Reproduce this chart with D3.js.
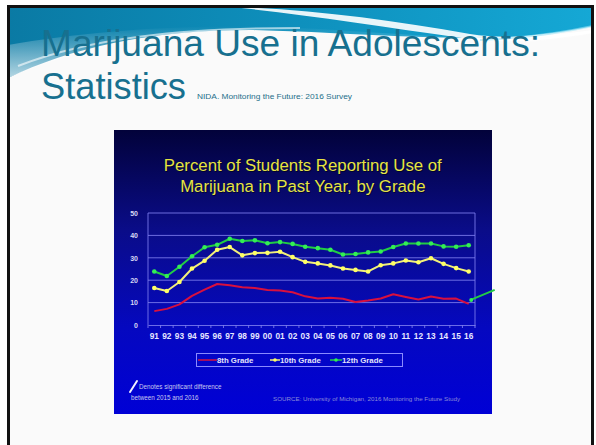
<!DOCTYPE html>
<html><head><meta charset="utf-8">
<script src="https://cdn.jsdelivr.net/npm/d3@7"></script>
<style>html,body{margin:0;padding:0;background:#fff;overflow:hidden}</style>
</head><body>
<script>
const years = ["91","92","93","94","95","96","97","98","99","00","01","02","03","04","05","06","07","08","09","10","11","12","13","14","15","16"];
const grade8  = [6.2,7.2,9.2,13.0,15.8,18.3,17.7,16.9,16.5,15.6,15.4,14.6,12.8,11.8,12.2,11.7,10.3,10.9,11.8,13.7,12.5,11.4,12.7,11.7,11.8,9.4];
const grade10 = [16.5,15.2,19.2,25.2,28.7,33.6,34.8,31.1,32.1,32.2,32.7,30.3,28.2,27.5,26.6,25.2,24.6,23.9,26.7,27.5,28.8,28.0,29.8,27.3,25.4,23.9];
const grade12 = [23.9,21.9,26.0,30.7,34.7,35.8,38.5,37.5,37.8,36.5,37.0,36.2,34.9,34.3,33.6,31.5,31.7,32.4,32.8,34.8,36.4,36.4,36.4,35.1,34.9,35.6];
const yTicks = [0,10,20,30,40,50];
const seriesNames = ["8th Grade","10th Grade","12th Grade"];

const W = 596, H = 445;
const svg = d3.select("body").append("svg").attr("width", W).attr("height", H);
const defs = svg.append("defs");

// slide background
svg.append("rect").attr("x",0).attr("y",0).attr("width",W).attr("height",H).attr("fill","#ffffff");
svg.append("rect").attr("x",8).attr("y",6).attr("width",585).attr("height",H).attr("fill","#fafafa");

// header wave
const tg = defs.append("linearGradient").attr("id","teal").attr("x1","0").attr("y1","0").attr("x2","1").attr("y2","0");
tg.append("stop").attr("offset","0%").attr("stop-color","#0a7aa4");
tg.append("stop").attr("offset","50%").attr("stop-color","#0e90bd");
tg.append("stop").attr("offset","100%").attr("stop-color","#15a8d5");
const tv = defs.append("linearGradient").attr("id","tealFade").attr("x1","0").attr("y1","0").attr("x2","0").attr("y2","1");
tv.append("stop").attr("offset","0%").attr("stop-color","#ffffff").attr("stop-opacity",0);
tv.append("stop").attr("offset","100%").attr("stop-color","#ffffff").attr("stop-opacity",0.7);
svg.append("path").attr("d","M8,7 H593 V26 C560,33 520,38 480,38 C400,38 330,32 250,30 C150,30 70,48 8,78 Z").attr("fill","url(#teal)");
svg.append("path").attr("d","M8,45 C70,34 150,26 250,26 C330,28 400,36 480,38 C520,38 560,33 593,26 V34 C560,40 520,44 480,44 C400,44 330,36 250,34 C150,34 70,50 8,78 Z").attr("fill","url(#tealFade)");
// light swoosh
svg.append("path").attr("d","M232,7 C310,9 390,20 470,34 C500,39 540,37 593,30 L593,33 C540,42 500,44 462,38 C380,26 300,14 232,7 Z").attr("fill","#ffffff").attr("opacity",0.9);
svg.append("path").attr("d","M18,66 C90,38 180,28 300,28").attr("fill","none").attr("stroke","#ffffff").attr("stroke-width",2).attr("opacity",0.6);
svg.append("path").attr("d","M480,40 C530,38 565,32 593,26").attr("fill","none").attr("stroke","#9ee4f6").attr("stroke-width",2).attr("opacity",0.6);

// frame
svg.append("path").attr("d","M8.5,460 V6.5 H592.5 V460").attr("fill","none").attr("stroke","#111").attr("stroke-width",3);

// titles
svg.append("text").attr("x",41).attr("y",56).attr("font-family","Liberation Sans, Arial, sans-serif")
  .attr("font-size",36).attr("fill","#17708f").attr("textLength",499).attr("lengthAdjust","spacingAndGlyphs")
  .text("Marijuana Use in Adolescents:");
svg.append("text").attr("x",41).attr("y",99).attr("font-family","Liberation Sans, Arial, sans-serif")
  .attr("font-size",36).attr("fill","#17708f").attr("textLength",145).attr("lengthAdjust","spacingAndGlyphs")
  .text("Statistics");
svg.append("text").attr("x",197).attr("y",99).attr("font-family","Liberation Sans, Arial, sans-serif")
  .attr("font-size",7).attr("fill","#1d6f8a").attr("textLength",155).attr("lengthAdjust","spacingAndGlyphs")
  .text("NIDA. Monitoring the Future: 2016 Survey");

// chart panel
const bg = defs.append("linearGradient").attr("id","panel").attr("x1","0").attr("y1","0").attr("x2","0").attr("y2","1");
bg.append("stop").attr("offset","0%").attr("stop-color","#02023a");
bg.append("stop").attr("offset","35%").attr("stop-color","#0a0c88");
bg.append("stop").attr("offset","70%").attr("stop-color","#0508c0");
bg.append("stop").attr("offset","100%").attr("stop-color","#0000d6");
svg.append("rect").attr("x",114).attr("y",130).attr("width",378).attr("height",284).attr("fill","url(#panel)");

const font = "Liberation Sans, Arial, sans-serif";
const ct = svg.append("g").attr("font-family",font).attr("font-size",16.8).attr("fill","#e4e444").attr("text-anchor","middle");
[["Percent of Students Reporting Use of",171],["Marijuana in Past Year, by Grade",192]].forEach(([t,yy])=>{
  ct.append("text").attr("x",303.8).attr("y",yy+1).attr("fill","#000").attr("opacity",0.5).text(t);
  ct.append("text").attr("x",302.8).attr("y",yy).text(t);
});

// scales
const x = d3.scaleBand().domain(years).range([148,475]);
const xc = d => x(d) + x.bandwidth()/2;
const y = d3.scaleLinear().domain([0,50]).range([325,213]);

const gridColor = "#7f7ff0";
svg.append("g").selectAll("line").data(yTicks.filter(v=>v>0)).join("line")
  .attr("x1",148).attr("x2",475).attr("y1",d=>y(d)).attr("y2",d=>y(d))
  .attr("stroke",gridColor).attr("stroke-width",1).attr("opacity",0.85);
svg.append("line").attr("x1",148).attr("x2",148).attr("y1",y(50)).attr("y2",y(0)).attr("stroke",gridColor).attr("opacity",0.85);
svg.append("line").attr("x1",475).attr("x2",475).attr("y1",y(50)).attr("y2",y(0)).attr("stroke",gridColor).attr("opacity",0.85);

// axes
const yAxis = d3.axisLeft(y).tickValues(yTicks).tickSize(0).tickPadding(10);
const gy = svg.append("g").attr("transform","translate(148,0)").call(yAxis);
gy.select(".domain").remove();
gy.selectAll("text").attr("fill","#d8d8f4").attr("font-size",7).attr("font-weight","bold").attr("font-family",font);

const xAxis = d3.axisBottom(x).tickSize(0).tickPadding(8);
const gx = svg.append("g").attr("transform",`translate(0,${y(0)})`).call(xAxis);
gx.select(".domain").attr("stroke",gridColor).attr("opacity",0.85);
gx.selectAll("text").attr("fill","#e6e6ff").attr("font-size",8.3).attr("font-weight","bold").attr("font-family",font);
svg.append("g").selectAll("line").data(years).join("line")
  .attr("x1",d=>x(d)).attr("x2",d=>x(d)).attr("y1",y(0)).attr("y2",y(0)+3)
  .attr("stroke",gridColor).attr("opacity",0.85);
svg.append("line").attr("x1",475).attr("x2",475).attr("y1",y(0)).attr("y2",y(0)+3).attr("stroke",gridColor);

// lines
const line = d3.line().x((d,i)=>xc(years[i])).y(d=>y(d)).curve(d3.curveLinear);
const series = [
  {name:seriesNames[0], data:grade8,  color:"#d8103e", marker:null},
  {name:seriesNames[1], data:grade10, color:"#f2f07a", marker:"#ffff66"},
  {name:seriesNames[2], data:grade12, color:"#22cc44", marker:"#33ee55"}
];
series.forEach(s=>{
  svg.append("path").datum(s.data).attr("d",line).attr("fill","none")
    .attr("stroke",s.color).attr("stroke-width",2).attr("stroke-linejoin","round");
  if (s.marker) {
    svg.append("g").selectAll("circle").data(s.data).join("circle")
      .attr("cx",(d,i)=>xc(years[i])).attr("cy",d=>y(d)).attr("r",2.3).attr("fill",s.marker);
  }
});

// significance marker for 8th grade 2016
const lastX = xc(years[years.length-1]), lastY = y(grade8[grade8.length-1]);
svg.append("line").attr("x1",lastX+2).attr("y1",lastY-4).attr("x2",lastX+26).attr("y2",lastY-14)
  .attr("stroke","#22cc44").attr("stroke-width",2);
svg.append("circle").attr("cx",lastX+2.5).attr("cy",lastY-4).attr("r",2).attr("fill","#33ee55");

// legend
const lg = svg.append("g").attr("font-family",font).attr("font-size",7.8).attr("font-weight","bold");
lg.append("rect").attr("x",196.5).attr("y",353.5).attr("width",206).attr("height",13).attr("fill","none").attr("stroke","#8a8aff").attr("stroke-width",1);
const legendPos = [{lx:198, tx:217},{lx:270, tx:280},{lx:330, tx:342}];
series.forEach((s,i)=>{
  const p = legendPos[i];
  lg.append("line").attr("x1",p.lx).attr("x2",p.tx).attr("y1",360).attr("y2",360).attr("stroke",s.color).attr("stroke-width",1.5);
  if (s.marker) lg.append("circle").attr("cx",(p.lx+p.tx)/2).attr("cy",360).attr("r",1.8).attr("fill",s.marker);
  lg.append("text").attr("x",p.tx).attr("y",362.8).attr("fill","#e4e4fa").text(s.name);
});

// footnotes
svg.append("line").attr("x1",130).attr("y1",392).attr("x2",137).attr("y2",381).attr("stroke","#f0f0ff").attr("stroke-width",2).attr("stroke-linecap","round");
svg.append("text").attr("x",139).attr("y",388.5).attr("font-family",font).attr("font-size",6.3).attr("fill","#c8c8f0").text("Denotes significant difference");
svg.append("text").attr("x",131).attr("y",399.5).attr("font-family",font).attr("font-size",6.3).attr("fill","#c8c8f0").text("between 2015 and 2016");
svg.append("text").attr("x",273).attr("y",400.5).attr("font-family",font).attr("font-size",4.6).attr("fill","#8a8ad8")
  .attr("textLength",187).attr("lengthAdjust","spacingAndGlyphs").text("SOURCE: University of Michigan, 2016 Monitoring the Future Study");
</script>
</body></html>
